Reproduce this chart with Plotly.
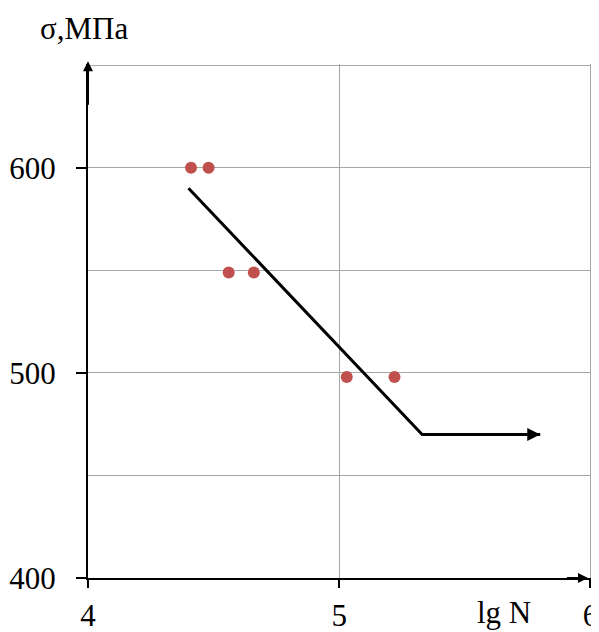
import plotly.graph_objects as go

# experimental points
lgN = [4.41, 4.48, 4.56, 4.66, 5.03, 5.22]
sigma = [600, 600, 549, 549, 498, 498]

# fatigue curve (sloped part + horizontal endurance limit)
fit_lgN = [4.40, 5.33, 5.80]
fit_sigma = [590, 470, 470]

x_ticks = [4, 5, 6]
y_ticks = [400, 500, 600]

FONT = "Liberation Serif"
FS = 31

fig = go.Figure()
fig.add_trace(go.Scatter(x=fit_lgN, y=fit_sigma, mode="lines",
                         line=dict(color="black", width=3), showlegend=False,
                         hoverinfo="skip"))
fig.add_trace(go.Scatter(x=lgN, y=sigma, mode="markers",
                         marker=dict(color="#C0504D", size=12), showlegend=False))

# arrowheads
def arrow(x, y, ax, ay, w):
    fig.add_annotation(x=x, y=y, ax=ax, ay=ay, xref="x", yref="y", axref="x", ayref="y",
                       showarrow=True, arrowhead=2, arrowsize=1, arrowwidth=w,
                       arrowcolor="black", text="")

arrow(fit_lgN[-1], fit_sigma[-1], fit_lgN[-1] - 0.05, fit_sigma[-1], 2.6)
arrow(5.99, 400, 5.9, 400, 2)
arrow(4.0, 652, 4.0, 630, 2)

fig.add_annotation(text="σ,МПа", xref="paper", yref="paper", x=-0.099, y=1.07,
                   xanchor="left", yanchor="middle", showarrow=False,
                   font=dict(family=FONT, size=FS, color="black"))
fig.add_annotation(text="lg N", xref="x", yref="paper", x=5.655, y=-0.067,
                   xanchor="center", yanchor="middle", showarrow=False,
                   font=dict(family=FONT, size=FS, color="black"))

fig.update_xaxes(range=[4, 6.006], tickvals=x_ticks, ticktext=[str(v) for v in x_ticks],
                 automargin=False,
                 showgrid=True, gridcolor="#a6a6a6", gridwidth=1,
                 showline=True, linecolor="black", linewidth=2, zeroline=False,
                 ticks="outside", ticklen=8, tickwidth=1.5, tickcolor="black",
                 ticklabelstandoff=1,
                 tickfont=dict(family=FONT, size=FS, color="black"))
fig.update_yaxes(range=[400, 650.6], tickvals=y_ticks, ticktext=[str(v) for v in y_ticks],
                 automargin=False,
                 showgrid=True, gridcolor="#a6a6a6", gridwidth=1,
                 minor=dict(tickvals=[450, 550, 650], showgrid=True,
                            gridcolor="#a6a6a6", gridwidth=1),
                 showline=True, linecolor="black", linewidth=2, zeroline=False,
                 ticks="outside", ticklen=10, tickwidth=1.5, tickcolor="black",
                 ticklabelstandoff=14,
                 tickfont=dict(family=FONT, size=FS, color="black"))

# page body has an 8px margin, so the figure is shrunk by 8px and margins shifted
fig.update_layout(width=591, height=624, margin=dict(l=80, r=7, t=56, b=54),
                  plot_bgcolor="white", paper_bgcolor="white")

fig.write_html("out.html")
